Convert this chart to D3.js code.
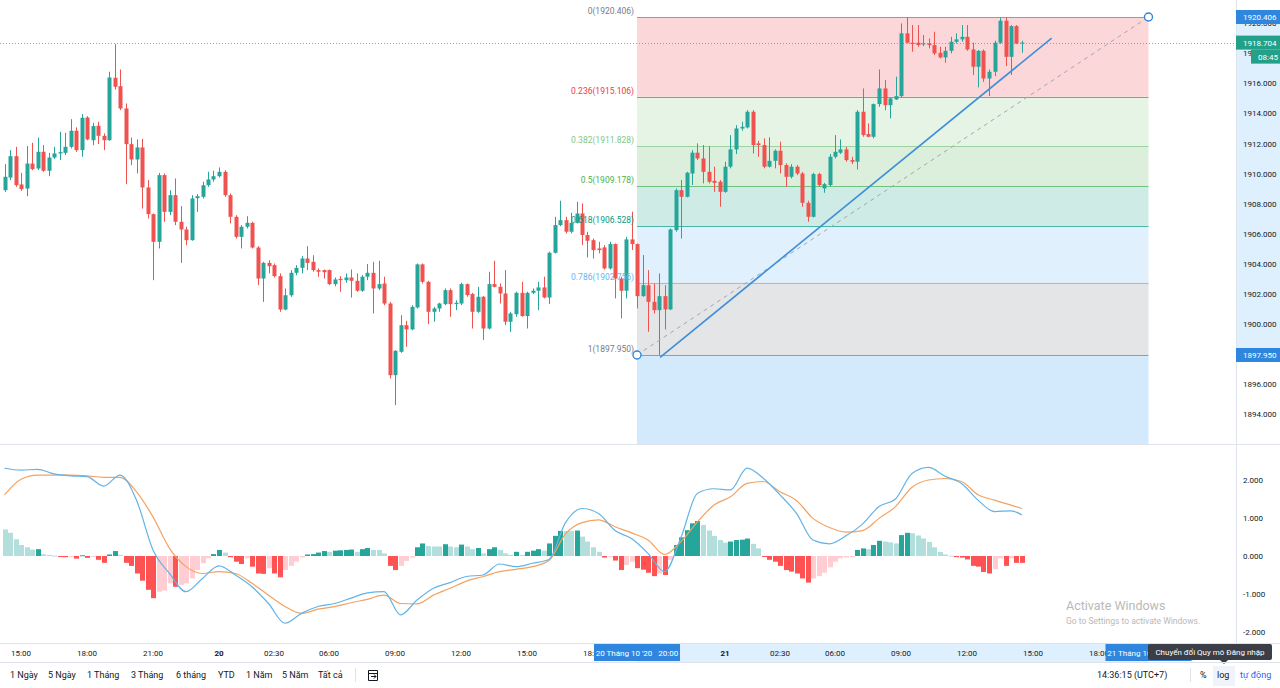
<!DOCTYPE html>
<html>
<head>
<meta charset="utf-8">
<script src="https://cdnjs.cloudflare.com/ajax/libs/d3/7.8.5/d3.min.js"></script>
<style>
  body { margin: 0; background: #fff; overflow: hidden; }
  svg { display: block; font-family: Roboto, "Noto Sans", sans-serif; }
</style>
</head>
<body>
<svg width="1280" height="688"></svg>
<script>
// 15 minute candles, index 0 = 19 Oct 14:15 (UTC+7); [open, high, low, close]
const ohlc = [
  [1908.90,1910.63,1908.79,1909.79],[1909.74,1911.56,1909.57,1911.16],[1911.16,1911.78,1909.12,1909.23],[1909.28,1910.05,1908.86,1908.97],
  [1909.01,1911.83,1908.50,1910.67],[1910.67,1912.05,1910.23,1910.30],[1910.34,1912.40,1910.23,1911.45],[1911.45,1911.89,1910.12,1910.19],
  [1910.19,1911.38,1909.83,1911.07],[1911.07,1911.78,1910.98,1911.34],[1911.34,1912.78,1910.90,1911.43],[1911.38,1912.71,1911.23,1911.78],
  [1911.78,1913.62,1911.67,1912.85],[1912.85,1913.07,1911.45,1911.56],[1911.56,1913.95,1911.12,1913.71],[1913.73,1913.82,1912.22,1912.27],
  [1912.22,1913.38,1911.89,1913.16],[1913.18,1913.44,1911.96,1912.51],[1912.51,1912.67,1911.56,1912.22],[1912.22,1916.77,1912.18,1916.39],
  [1916.37,1918.60,1915.59,1915.77],[1915.81,1916.92,1914.22,1914.33],[1914.33,1914.66,1909.30,1911.96],[1911.96,1912.40,1910.56,1910.94],
  [1910.94,1912.27,1910.01,1911.74],[1911.74,1912.31,1907.68,1909.08],[1909.08,1909.57,1907.02,1907.31],[1907.31,1907.35,1902.92,1905.47],
  [1905.47,1910.05,1905.03,1909.90],[1909.90,1910.01,1906.80,1907.46],[1907.46,1908.90,1907.24,1908.57],[1908.57,1909.68,1906.58,1906.80],
  [1906.80,1907.84,1904.07,1906.29],[1906.29,1906.47,1905.25,1905.58],[1905.58,1908.57,1905.54,1908.35],[1908.37,1908.64,1907.46,1908.50],
  [1908.46,1909.46,1908.35,1909.23],[1909.23,1910.12,1909.12,1909.61],[1909.61,1910.19,1909.46,1909.83],[1909.83,1910.41,1909.74,1910.12],
  [1910.12,1910.23,1908.46,1908.57],[1908.57,1908.68,1906.69,1907.13],[1907.13,1907.24,1905.69,1905.80],[1905.80,1906.58,1905.03,1906.47],
  [1906.47,1907.17,1906.36,1906.73],[1906.73,1906.80,1905.03,1905.09],[1905.09,1905.18,1902.59,1903.03],[1903.03,1904.14,1901.48,1904.07],
  [1904.07,1904.25,1903.37,1903.85],[1903.92,1904.03,1903.10,1903.19],[1903.19,1903.37,1900.82,1900.97],[1900.97,1902.37,1900.93,1901.92],
  [1901.92,1903.59,1901.81,1903.41],[1903.41,1903.92,1903.25,1903.74],[1903.74,1904.52,1903.37,1904.36],[1904.36,1905.18,1903.59,1904.07],
  [1904.14,1904.58,1903.48,1903.59],[1903.59,1903.70,1903.14,1903.48],[1903.59,1903.63,1903.03,1903.45],[1903.59,1903.63,1902.59,1902.66],
  [1902.66,1903.10,1902.52,1902.97],[1903.01,1903.19,1902.15,1902.92],[1902.92,1903.37,1902.75,1903.10],[1903.10,1903.63,1901.77,1902.88],
  [1902.88,1903.37,1902.15,1902.22],[1902.22,1903.26,1902.15,1903.15],[1903.15,1903.99,1902.92,1903.41],[1903.41,1904.14,1900.71,1902.37],
  [1902.37,1904.21,1902.26,1902.66],[1902.70,1903.15,1901.26,1901.37],[1901.37,1901.48,1896.39,1896.61],[1896.61,1898.27,1894.62,1898.23],
  [1898.16,1900.60,1898.10,1899.93],[1899.93,1900.22,1898.49,1899.65],[1899.65,1901.26,1899.60,1901.15],[1901.11,1904.03,1901.04,1903.97],
  [1903.97,1904.03,1902.70,1902.81],[1902.81,1902.88,1900.00,1900.82],[1900.82,1901.15,1900.16,1901.04],[1901.04,1901.42,1900.82,1901.37],
  [1901.33,1902.37,1901.26,1902.26],[1902.26,1902.37,1900.49,1901.33],[1901.33,1901.59,1900.93,1901.42],[1901.37,1902.75,1901.26,1902.66],
  [1902.66,1902.70,1901.82,1901.93],[1902.00,1902.08,1899.71,1900.82],[1900.82,1902.48,1900.75,1901.82],[1901.82,1901.86,1898.94,1899.71],
  [1899.71,1903.48,1899.65,1902.66],[1902.66,1904.21,1902.44,1902.48],[1902.48,1902.70,1901.37,1902.04],[1902.04,1903.59,1899.93,1900.16],
  [1900.16,1900.82,1899.49,1900.71],[1900.66,1902.15,1900.49,1902.08],[1902.08,1902.81,1900.49,1900.54],[1900.54,1902.15,1899.71,1902.08],
  [1902.08,1902.37,1902.00,1902.22],[1902.22,1902.81,1900.93,1902.44],[1902.44,1903.15,1901.71,1901.77],[1901.77,1904.81,1901.33,1904.74],
  [1904.74,1907.13,1904.70,1906.58],[1906.58,1908.20,1906.51,1906.91],[1906.91,1907.13,1906.03,1906.14],[1906.14,1907.40,1906.03,1906.73],
  [1906.73,1908.13,1906.69,1907.35],[1907.35,1908.02,1905.25,1905.92],[1905.92,1906.14,1904.43,1905.54],[1905.58,1905.69,1904.36,1904.92],
  [1905.03,1905.47,1904.70,1904.92],[1905.10,1905.25,1903.63,1903.70],[1903.70,1905.47,1903.63,1905.32],[1905.32,1905.36,1901.71,1903.03],
  [1903.03,1903.15,1900.38,1902.22],[1902.22,1905.80,1901.71,1905.63],[1905.63,1907.47,1904.92,1905.32],[1905.32,1905.36,1901.04,1901.86],
  [1901.86,1904.59,1901.82,1902.59],[1902.59,1903.59,1899.49,1901.48],[1901.48,1902.70,1900.71,1900.93],[1900.93,1903.37,1897.95,1901.86],
  [1901.86,1902.59,1899.65,1900.98],[1900.98,1906.36,1900.93,1906.29],[1906.25,1909.01,1906.14,1908.90],[1908.90,1909.57,1905.69,1908.46],
  [1908.46,1910.12,1908.42,1910.06],[1910.01,1911.56,1909.24,1911.39],[1911.39,1912.01,1910.90,1911.01],[1911.01,1911.90,1909.35,1910.12],
  [1910.12,1911.83,1909.35,1909.46],[1909.52,1910.46,1908.79,1909.39],[1909.46,1909.57,1907.80,1908.79],[1908.79,1910.79,1908.73,1910.46],
  [1910.46,1912.56,1910.35,1911.61],[1911.61,1913.22,1911.30,1913.00],[1913.00,1913.45,1912.85,1913.11],[1913.07,1914.22,1913.00,1914.11],
  [1914.11,1914.22,1911.34,1911.90],[1912.01,1912.18,1911.12,1911.90],[1911.90,1912.34,1910.35,1910.46],[1910.46,1912.41,1910.41,1910.85],
  [1910.85,1911.61,1910.35,1911.52],[1911.52,1912.12,1910.01,1910.57],[1910.57,1910.68,1909.13,1909.79],[1909.79,1910.63,1909.68,1910.46],
  [1910.46,1910.57,1909.90,1910.01],[1910.01,1910.12,1907.80,1908.06],[1908.06,1908.20,1906.80,1907.13],[1907.13,1910.06,1907.09,1909.97],
  [1909.97,1910.06,1909.13,1909.24],[1909.02,1909.39,1908.73,1909.30],[1909.24,1911.30,1909.17,1911.12],[1911.12,1912.56,1911.01,1911.45],
  [1911.39,1912.27,1911.30,1911.61],[1911.61,1911.78,1910.79,1910.90],[1910.90,1911.12,1910.63,1910.79],[1910.79,1914.22,1910.28,1914.11],
  [1914.11,1915.66,1912.45,1912.56],[1912.63,1913.33,1912.41,1912.45],[1912.45,1914.66,1912.34,1914.62],[1914.62,1916.92,1914.44,1915.66],
  [1915.66,1916.22,1914.22,1914.55],[1914.55,1915.06,1913.67,1915.00],[1914.93,1916.44,1914.89,1915.15],[1915.15,1919.98,1915.06,1919.32],
  [1919.32,1920.40,1918.65,1918.70],[1918.70,1919.87,1918.10,1918.61],[1918.70,1919.87,1918.43,1918.54],[1918.61,1919.21,1918.47,1918.65],
  [1918.65,1918.98,1918.32,1918.54],[1918.54,1919.43,1917.88,1917.99],[1918.03,1918.43,1917.65,1917.72],[1917.72,1918.43,1917.37,1918.16],
  [1918.16,1919.09,1917.99,1918.76],[1918.76,1919.32,1918.65,1918.92],[1918.92,1919.87,1918.76,1919.09],[1919.09,1919.87,1918.16,1918.25],
  [1918.25,1918.70,1916.55,1917.10],[1917.10,1918.21,1915.73,1918.16],[1918.16,1918.25,1916.10,1916.32],[1916.32,1916.92,1915.15,1916.77],
  [1916.77,1918.83,1916.48,1918.70],[1918.70,1920.35,1918.61,1920.16],[1920.16,1920.406,1917.15,1917.76],[1917.76,1919.87,1916.55,1919.80],
  [1919.80,1919.87,1918.61,1918.65],[1918.65,1918.83,1918.03,1918.704]
];

// MACD histogram, one value per candle
const macdHist = [
  0.70,0.61,0.44,0.29,0.23,0.17,0.18,0.05,0.03,0.01,
  -0.02,-0.03,-0.02,-0.07,0.02,-0.05,-0.02,-0.10,-0.18,0.04,
  0.13,0.03,-0.18,-0.26,-0.46,-0.65,-0.89,-1.11,-0.94,-0.91,
  -0.72,-0.81,-0.76,-0.72,-0.59,-0.37,-0.19,-0.06,0.05,0.16,
  0.09,-0.03,-0.15,-0.21,-0.06,-0.28,-0.46,-0.47,-0.32,-0.46,
  -0.56,-0.37,-0.26,-0.15,-0.04,0.04,0.05,0.09,0.13,0.11,
  0.14,0.15,0.16,0.17,0.11,0.18,0.21,0.16,0.16,0.07,
  -0.26,-0.37,-0.26,-0.13,-0.04,0.23,0.33,0.26,0.25,0.25,
  0.31,0.25,0.23,0.30,0.25,0.18,0.21,0.07,0.18,0.23,
  0.16,0.07,0.03,0.11,0.03,0.11,0.14,0.18,0.14,0.33,
  0.53,0.66,0.66,0.66,0.67,0.51,0.38,0.23,0.11,-0.04,
  -0.03,-0.12,-0.37,-0.24,-0.15,-0.32,-0.36,-0.44,-0.53,-0.46,
  -0.50,-0.10,0.29,0.49,0.68,0.86,0.92,0.82,0.67,0.53,
  0.42,0.35,0.38,0.42,0.43,0.46,0.32,0.20,-0.02,-0.10,
  -0.15,-0.26,-0.37,-0.41,-0.46,-0.59,-0.70,-0.59,-0.53,-0.44,
  -0.30,-0.15,-0.06,-0.04,-0.03,0.16,0.20,0.18,0.29,0.40,
  0.38,0.36,0.33,0.55,0.61,0.60,0.54,0.46,0.37,0.23,
  0.11,0.04,0.01,-0.03,-0.04,-0.09,-0.26,-0.28,-0.42,-0.46,
  -0.35,-0.06,-0.26,-0.06,-0.18,-0.18
];

// MACD and signal lines, read every 3rd candle (last one = candle 185)
const macdLine = [
  2.31,2.26,2.28,2.16,2.11,2.09,1.84,2.13,1.47,0.16,
  -0.46,-0.94,-0.59,-0.26,-0.50,-0.81,-1.25,-1.77,-1.51,-1.33,
  -1.25,-1.11,-0.97,-0.94,-1.55,-1.16,-0.85,-0.70,-0.54,-0.50,
  -0.21,-0.28,-0.19,-0.09,0.88,1.25,1.12,0.67,0.46,0.07,
  -0.41,0.49,1.65,1.77,1.74,2.31,2.04,1.61,1.12,0.42,
  0.32,0.53,0.84,1.30,1.50,2.17,2.33,2.10,1.91,1.47,
  1.17,1.19,1.08
];
const signalLine = [
  1.61,2.02,2.13,2.13,2.13,2.11,2.07,2.07,1.69,1.03,
  0.20,-0.28,-0.46,-0.41,-0.46,-0.72,-1.03,-1.33,-1.51,-1.40,
  -1.33,-1.23,-1.14,-1.03,-1.25,-1.26,-1.03,-0.85,-0.66,-0.54,
  -0.41,-0.35,-0.28,-0.12,0.58,0.88,0.95,0.77,0.61,0.42,
  0.04,0.38,0.90,1.34,1.56,1.91,1.96,1.69,1.46,0.99,
  0.75,0.63,0.67,0.99,1.30,1.81,2.00,2.04,1.96,1.61,
  1.47,1.34,1.25
];

// Fibonacci retracement: from candle 115 (20 Oct 20:00) to candle 208 (21 Oct 20:15)
const fibLow = 1897.950, fibHigh = 1920.406;
const fibStart = 115, fibEnd = 208;
const fibLevels = [0, 0.236, 0.382, 0.5, 0.618, 0.786, 1, 1.618];
const fibColors = ['#787b86', '#f23645', '#81c784', '#4caf50', '#089981', '#64b5f6', '#787b86', '#2196f3'];

// trend line: [candle index, price]
const trendLine = [[119.2, 1897.80], [190.4, 1919.00]];

const lastPrice = 1918.704;
const priceTicks = d3.range(1894, 1921, 2);
const macdTicks = [2, 1, 0, -1, -2];

const timeTickIdx = [3, 15, 27, 39, 49, 59, 71, 83, 95, 107, 131, 141, 151, 163, 175, 187, 199];
const timeTickText = ['15:00', '18:00', '21:00', '20', '02:30', '06:00', '09:00', '12:00', '15:00', '18:00',
                      '21', '02:30', '06:00', '09:00', '12:00', '15:00', '18:00'];

const rangeButtons = ['1 Ngày', '5 Ngày', '1 Tháng', '3 Tháng', '6 tháng', 'YTD', '1 Năm', '5 Năm', 'Tất cả'];

const svg = d3.select('svg'),
    width = +svg.attr('width'),
    height = +svg.attr('height');

const axisX = 1236, paneBottom = 444, macdTop = 446, macdBottom = 643, timeBottom = 662;
const upColor = '#26a69a', downColor = '#ef5350';

const x = d3.scaleLinear().domain([0, 208]).range([4.5, 1148.5]);
const y = d3.scaleLinear().domain([fibLow, fibHigh]).range([355, 17]);
const ym = d3.scaleLinear().domain([-2, 2]).range([632, 480]);

const defs = svg.append('defs');
defs.append('clipPath').attr('id', 'mainClip')
    .append('rect').attr('x', 0).attr('y', 0).attr('width', axisX).attr('height', paneBottom);
defs.append('clipPath').attr('id', 'macdClip')
    .append('rect').attr('x', 0).attr('y', macdTop).attr('width', axisX).attr('height', macdBottom - macdTop);

// ---- fibonacci fills and levels
const fibPrice = r => fibHigh - r * (fibHigh - fibLow);
const fib = svg.append('g').attr('clip-path', 'url(#mainClip)');
const fx0 = x(fibStart), fx1 = x(fibEnd);

fib.selectAll('rect')
    .data(fibLevels.slice(1))
    .enter()
    .append('rect')
    .attr('x', fx0)
    .attr('width', fx1 - fx0)
    .attr('y', (r, i) => y(fibPrice(fibLevels[i])))
    .attr('height', (r, i) => y(fibPrice(r)) - y(fibPrice(fibLevels[i])))
    .attr('fill', (r, i) => fibColors[i + 1])
    .attr('fill-opacity', 0.2);

fib.selectAll('line')
    .data(fibLevels)
    .enter()
    .append('line')
    .attr('x1', fx0).attr('x2', fx1)
    .attr('y1', r => Math.round(y(fibPrice(r))) + 0.5)
    .attr('y2', r => Math.round(y(fibPrice(r))) + 0.5)
    .attr('stroke', (r, i) => fibColors[i])
    .attr('stroke-opacity', 0.7);

// current price dotted line
svg.append('line')
    .attr('x1', 0).attr('x2', axisX)
    .attr('y1', Math.round(y(lastPrice)) + 0.5).attr('y2', Math.round(y(lastPrice)) + 0.5)
    .attr('stroke', '#5dbcb0')
    .attr('stroke-dasharray', '1,2');

// ---- candles
const candles = svg.append('g')
    .attr('clip-path', 'url(#mainClip)')
    .selectAll('g')
    .data(ohlc)
    .enter()
    .append('g')
    .attr('fill', d => d[3] >= d[0] ? upColor : downColor)
    .attr('stroke', d => d[3] >= d[0] ? upColor : downColor);

candles.append('line')
    .attr('x1', (d, i) => Math.round(x(i)) + 0.5)
    .attr('x2', (d, i) => Math.round(x(i)) + 0.5)
    .attr('y1', d => y(d[1]))
    .attr('y2', d => y(d[2]))
    .attr('stroke-width', 1);

candles.append('rect')
    .attr('x', (d, i) => Math.round(x(i)) - 1.5)
    .attr('width', 4)
    .attr('y', d => y(Math.max(d[0], d[3])))
    .attr('height', d => Math.max(1, Math.abs(y(d[0]) - y(d[3]))))
    .attr('stroke', 'none');

// ---- fib diagonal, trend line and anchors
svg.append('line')
    .attr('x1', fx0).attr('y1', y(fibLow))
    .attr('x2', fx1).attr('y2', y(fibHigh))
    .attr('stroke', '#a3a6af')
    .attr('stroke-width', 1)
    .attr('stroke-dasharray', '4,4');

svg.append('line')
    .attr('x1', x(trendLine[0][0])).attr('y1', y(trendLine[0][1]))
    .attr('x2', x(trendLine[1][0])).attr('y2', y(trendLine[1][1]))
    .attr('stroke', '#3f8ed8')
    .attr('stroke-width', 1.6);

svg.selectAll('.anchor')
    .data([[fibStart, fibLow], [fibEnd, fibHigh]])
    .enter()
    .append('circle')
    .attr('class', 'anchor')
    .attr('cx', d => x(d[0]))
    .attr('cy', d => y(d[1]))
    .attr('r', 4)
    .attr('fill', '#fff')
    .attr('stroke', '#2e86de')
    .attr('stroke-width', 1.4);

// fib labels
svg.append('g')
    .selectAll('text')
    .data(fibLevels.slice(0, 7))
    .enter()
    .append('text')
    .attr('x', fx0 - 3)
    .attr('y', r => y(fibPrice(r)) - 3)
    .attr('text-anchor', 'end')
    .attr('font-size', 8.5)
    .attr('fill', (r, i) => fibColors[i])
    .text(r => `${r}(${fibPrice(r).toFixed(3)})`);

// ---- price axis
const axis = svg.append('g');
axis.append('rect')
    .attr('x', axisX).attr('y', y(fibHigh))
    .attr('width', width - axisX).attr('height', y(fibLow) - y(fibHigh))
    .attr('fill', '#2196f3').attr('fill-opacity', 0.15);
axis.append('line')
    .attr('x1', axisX + 0.5).attr('x2', axisX + 0.5)
    .attr('y1', 0).attr('y2', macdBottom)
    .attr('stroke', '#e0e3eb');
axis.selectAll('.ptick')
    .data(priceTicks)
    .enter()
    .append('text')
    .attr('class', 'ptick')
    .attr('x', axisX + 7)
    .attr('y', d => y(d) + 3)
    .attr('font-size', 8)
    .attr('fill', '#131722')
    .text(d => d.toFixed(3));

function priceBox(price, color, label, x0, yOff) {
    const yc = y(price) + (yOff || 0);
    axis.append('rect')
        .attr('x', x0).attr('y', yc - 7)
        .attr('width', width - x0).attr('height', 14)
        .attr('fill', color);
    axis.append('text')
        .attr('x', x0 + 7).attr('y', yc + 3)
        .attr('font-size', 8)
        .attr('fill', '#fff')
        .text(label);
}
priceBox(fibHigh, '#2e86de', fibHigh.toFixed(3), axisX);
priceBox(lastPrice, '#22a08a', lastPrice.toFixed(3), axisX);
priceBox(lastPrice, '#22a08a', '08:45', axisX + 15, 14);
priceBox(fibLow, '#2e86de', fibLow.toFixed(3), axisX);

// pane separator
svg.append('line')
    .attr('x1', 0).attr('x2', width)
    .attr('y1', paneBottom + 0.5).attr('y2', paneBottom + 0.5)
    .attr('stroke', '#e0e3eb');

// ---- MACD pane
const histColor = (v, i) => {
    const prev = i > 0 ? macdHist[i - 1] : v;
    if (v >= 0) return prev < v ? '#26a69a' : '#b2dfdb';
    return prev < v ? '#ffcdd2' : '#ff5252';
};

svg.append('g')
    .attr('clip-path', 'url(#macdClip)')
    .selectAll('rect')
    .data(macdHist)
    .enter()
    .append('rect')
    .attr('x', (d, i) => Math.round(x(i)) - 2)
    .attr('width', 5)
    .attr('y', d => Math.min(ym(d), ym(0)))
    .attr('height', d => Math.max(1, Math.abs(ym(d) - ym(0))))
    .attr('fill', histColor);

const sampleIdx = k => Math.min(k * 3, ohlc.length - 1);
const macdPath = d3.line()
    .x((d, k) => x(sampleIdx(k)))
    .y(d => ym(d))
    .curve(d3.curveMonotoneX);

const macdG = svg.append('g').attr('clip-path', 'url(#macdClip)').attr('fill', 'none');
macdG.append('path')
    .attr('d', macdPath(signalLine))
    .attr('stroke', '#f4a261')
    .attr('stroke-width', 1.2);
macdG.append('path')
    .attr('d', macdPath(macdLine))
    .attr('stroke', '#63b3e6')
    .attr('stroke-width', 1.2);

svg.append('g')
    .selectAll('text')
    .data(macdTicks)
    .enter()
    .append('text')
    .attr('x', axisX + 7)
    .attr('y', d => ym(d) + 3)
    .attr('font-size', 8)
    .attr('fill', '#131722')
    .text(d => d.toFixed(3));

// watermark
svg.append('text')
    .attr('x', 1066).attr('y', 610)
    .attr('font-size', 12.5)
    .attr('fill', '#b9b9b9')
    .text('Activate Windows');
svg.append('text')
    .attr('x', 1066).attr('y', 624)
    .attr('font-size', 8.5)
    .attr('fill', '#b9b9b9')
    .text('Go to Settings to activate Windows.');

// ---- time axis
svg.append('line')
    .attr('x1', 0).attr('x2', width)
    .attr('y1', macdBottom + 0.5).attr('y2', macdBottom + 0.5)
    .attr('stroke', '#e0e3eb');

svg.append('rect')
    .attr('x', fx0).attr('y', macdBottom + 1)
    .attr('width', fx1 - fx0).attr('height', timeBottom - macdBottom - 1)
    .attr('fill', '#2196f3').attr('fill-opacity', 0.15);

svg.append('g')
    .selectAll('text')
    .data(timeTickIdx)
    .enter()
    .append('text')
    .attr('x', d => x(d))
    .attr('y', 656)
    .attr('text-anchor', 'middle')
    .attr('font-size', 8)
    .attr('font-weight', (d, i) => timeTickText[i].length === 2 ? 'bold' : 'normal')
    .attr('fill', '#131722')
    .text((d, i) => timeTickText[i]);

function dateBox(idx, text) {
    const cx = x(idx);
    svg.append('rect')
        .attr('x', cx - 43).attr('y', macdBottom + 1)
        .attr('width', 86).attr('height', timeBottom - macdBottom - 2)
        .attr('fill', '#2e86de');
    svg.append('text')
        .attr('x', cx).attr('y', 656)
        .attr('text-anchor', 'middle')
        .attr('font-size', 8)
        .attr('fill', '#fff')
        .attr('xml:space', 'preserve')
        .text(text);
}
dateBox(fibStart, "20 Tháng 10 '20   20:00");
dateBox(fibEnd, "21 Tháng 10 '20   20:15");

// tooltip over the scale buttons
svg.append('rect')
    .attr('x', 1148).attr('y', 644)
    .attr('width', 124).attr('height', 16)
    .attr('rx', 2)
    .attr('fill', '#3b3e46');
svg.append('path')
    .attr('d', 'M1220,660 L1228,660 L1224,664 Z')
    .attr('fill', '#3b3e46');
svg.append('text')
    .attr('x', 1210).attr('y', 655)
    .attr('text-anchor', 'middle')
    .attr('font-size', 8)
    .attr('fill', '#fff')
    .text('Chuyển đổi Quy mô Đăng nhập');

// ---- bottom toolbar
svg.append('line')
    .attr('x1', 0).attr('x2', width)
    .attr('y1', timeBottom + 0.5).attr('y2', timeBottom + 0.5)
    .attr('stroke', '#e0e3eb');

const btnX = [10, 48, 87, 131, 176, 218, 246, 282, 318];
svg.append('g')
    .selectAll('text')
    .data(rangeButtons)
    .enter()
    .append('text')
    .attr('x', (d, i) => btnX[i])
    .attr('y', 678)
    .attr('font-size', 9)
    .attr('fill', '#131722')
    .text(d => d);

svg.append('line')
    .attr('x1', 355.5).attr('x2', 355.5).attr('y1', 668).attr('y2', 682)
    .attr('stroke', '#e0e3eb');
const icon = svg.append('g').attr('fill', 'none').attr('stroke', '#131722').attr('stroke-width', 1);
icon.append('path').attr('d', 'M368.5,670.5 h9 v10 h-9 Z M368.5,673.5 h9');
icon.append('path').attr('d', 'M371,676.5 h5 M374,674.5 l2,2 l-2,2');

svg.append('text')
    .attr('x', 1097).attr('y', 678)
    .attr('font-size', 9)
    .attr('fill', '#131722')
    .text('14:36:15 (UTC+7)');
svg.append('line')
    .attr('x1', 1190.5).attr('x2', 1190.5).attr('y1', 668).attr('y2', 682)
    .attr('stroke', '#e0e3eb');
svg.append('text')
    .attr('x', 1200).attr('y', 678)
    .attr('font-size', 9)
    .attr('fill', '#131722')
    .text('%');
svg.append('rect')
    .attr('x', 1213).attr('y', 666)
    .attr('width', 22).attr('height', 20)
    .attr('fill', '#f0f3fa');
svg.append('text')
    .attr('x', 1217).attr('y', 678)
    .attr('font-size', 9)
    .attr('fill', '#131722')
    .text('log');
svg.append('text')
    .attr('x', 1240).attr('y', 678)
    .attr('font-size', 9)
    .attr('fill', '#2962ff')
    .text('tự động');
</script>
</body>
</html>
